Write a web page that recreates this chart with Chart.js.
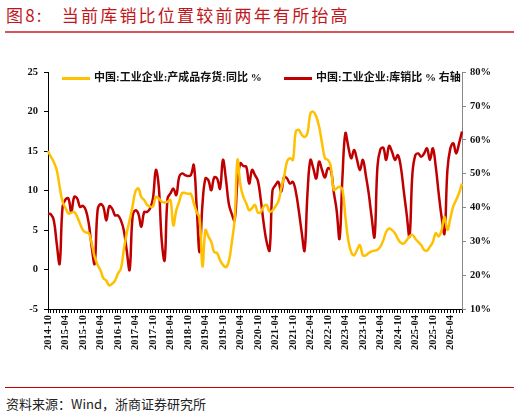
<!DOCTYPE html>
<html><head><meta charset="utf-8">
<script src="https://cdn.jsdelivr.net/npm/chart.js@4"></script>
<style>
body{margin:0;width:520px;height:417px;background:#fff;position:relative;overflow:hidden;font-family:"Noto Sans CJK SC",sans-serif}
#title{position:absolute;left:6px;top:2px;font-size:17px;letter-spacing:2.2px;color:#C0171D;white-space:nowrap}
#tl{position:absolute;left:5px;top:31px;width:509px;height:1.5px;background:#D9545A}
#bl{position:absolute;left:5px;top:387px;width:509px;height:1px;background:#C00000}
#src{position:absolute;left:6px;top:394px;font-size:13px;color:#222;font-family:"Noto Sans CJK SC","Liberation Serif",serif}
.lg{position:absolute;top:68px;font-size:11px;font-weight:bold;color:#111;font-family:"Liberation Serif","Noto Sans CJK SC",serif;white-space:nowrap}
.lg i{display:inline-block;width:28px;height:3px;vertical-align:middle;margin-right:4px}
#wrap{position:absolute;left:0;top:60px;width:520px;height:320px}
</style></head><body>
<div id="title">图8:&nbsp;&nbsp;&nbsp;当前库销比位置较前两年有所抬高</div>
<div id="tl"></div>
<div id="wrap"><canvas id="c" width="520" height="320" style="width:520px;height:320px"></canvas></div>
<div class="lg" style="left:62px"><i style="background:#FFC000"></i>中国:工业企业:产成品存货:同比 %</div>
<div class="lg" style="left:284px"><i style="background:#C00000"></i>中国:工业企业:库销比 % 右轴</div>
<div id="bl"></div>
<div id="src">资料来源：Wind，浙商证券研究所</div>
<script>
const inventoryYoY=[15.0,14.3,13.6,12.6,10.5,8.6,7.8,7.1,7.2,7.3,6.7,5.8,5.0,4.7,4.6,3.3,1.6,0.6,-0.1,-1.1,-1.4,-2.0,-1.8,-1.4,-0.5,0.1,2.5,4.6,6.3,8.0,9.9,10.3,9.2,8.8,8.2,8.0,8.0,9.2,9.0,8.6,8.5,8.6,8.8,5.6,7.5,8.6,9.7,9.7,9.6,9.6,8.4,7.3,6.5,0.4,5.0,4.2,3.5,2.2,2.1,1.2,0.6,0.3,1.0,3.3,6.3,13.9,10.7,9.2,8.4,7.5,7.8,8.2,7.2,7.3,8.0,8.2,7.3,7.5,8.0,8.6,10.3,11.8,13.7,14.1,13.9,17.5,17.7,17.1,16.8,17.3,19.8,20.0,19.4,18.1,16.0,14.1,13.9,13.1,10.1,10.3,10.5,10.1,6.7,3.7,2.2,1.8,2.5,3.1,1.8,1.8,2.1,2.3,2.4,2.5,2.9,3.7,4.8,5.2,5.0,4.6,3.9,3.4,3.3,3.7,4.2,4.4,3.9,3.5,3.1,2.5,2.4,2.9,3.5,4.6,4.2,5.0,6.7,5.0,6.5,8.0,8.8,9.7,10.9];
const invSalesRatio=[38.2,38.0,36.2,29.3,23.4,40.2,42.4,42.7,38.7,43.2,42.7,40.2,40.5,39.2,35.2,28.3,23.4,39.2,41.0,40.2,36.2,40.4,39.7,37.7,37.7,36.2,33.3,27.3,21.6,37.2,39.2,38.2,34.3,38.7,38.7,39.7,42.7,51.1,46.1,30.3,24.4,42.7,44.2,45.6,43.7,49.1,50.1,49.6,49.3,49.6,52.6,40.2,26.8,41.2,48.6,48.1,45.1,48.9,48.6,45.6,54.1,48.6,41.2,38.2,36.2,48.1,53.1,52.3,52.1,47.1,51.1,49.6,47.9,42.2,35.2,29.8,27.3,45.1,46.6,47.6,44.7,49.1,48.6,47.1,47.6,44.7,39.2,32.8,27.3,44.2,54.1,51.6,48.6,53.6,51.1,48.9,51.6,51.1,44.7,39.2,30.8,49.1,62.0,58.0,54.6,57.0,54.1,51.1,54.1,49.6,44.2,37.2,31.3,52.1,57.2,57.7,54.1,58.2,56.5,54.1,55.5,52.1,45.1,38.2,31.5,50.1,55.5,56.0,55.0,56.0,57.5,54.1,57.5,52.1,44.2,37.2,32.3,51.1,57.5,59.0,56.0,59.0,62.5];
const months=[];
for(let i=0;i<inventoryYoY.length;i++){const t=2014*12+9+i;const y=Math.floor(t/12),m=t%12+1;months.push(y+'-'+String(m).padStart(2,'0'));}
const leftTicks=[-5,0,5,10,15,20,25];
const rightTicks=[10,20,30,40,50,60,70,80];
const tf={family:'"Liberation Serif","Times New Roman",serif',size:10.5,weight:'bold'};
new Chart(document.getElementById('c'),{
type:'line',
data:{labels:months,datasets:[
{data:inventoryYoY,borderColor:'#FFC000',borderWidth:2.5,pointRadius:0,tension:0.4,yAxisID:'y'},
{data:invSalesRatio,borderColor:'#C00000',borderWidth:2.5,pointRadius:0,tension:0.4,yAxisID:'y2'}]},
options:{responsive:false,animation:false,maintainAspectRatio:false,devicePixelRatio:1,
layout:{padding:{top:12,left:0,right:0,bottom:0}},
plugins:{legend:{display:false},tooltip:{enabled:false}},
scales:{
x:{offset:false,grid:{drawOnChartArea:false,color:'#000',tickLength:4},border:{color:'#000'},
 ticks:{autoSkip:false,maxRotation:90,minRotation:90,color:'#111',font:tf,padding:2,
  callback:(v,i)=>i%6===0?months[i]:''},
 afterFit:s=>{s.height=71;}},
y:{position:'left',min:-5,max:25,afterBuildTicks:s=>{s.ticks=leftTicks.map(v=>({value:v}));},
 grid:{drawOnChartArea:false,color:'#000',tickLength:4},border:{color:'#000'},
 ticks:{color:'#111',font:tf,padding:6},afterFit:s=>{s.width=48;}},
y2:{position:'right',min:10,max:80,afterBuildTicks:s=>{s.ticks=rightTicks.map(v=>({value:v}));},
 grid:{drawOnChartArea:false,color:'#888',tickLength:4},border:{color:'#888'},
 ticks:{color:'#111',font:tf,padding:4,callback:v=>v+'%'},afterFit:s=>{s.width=58;}}
}}});
</script>
</body></html>
